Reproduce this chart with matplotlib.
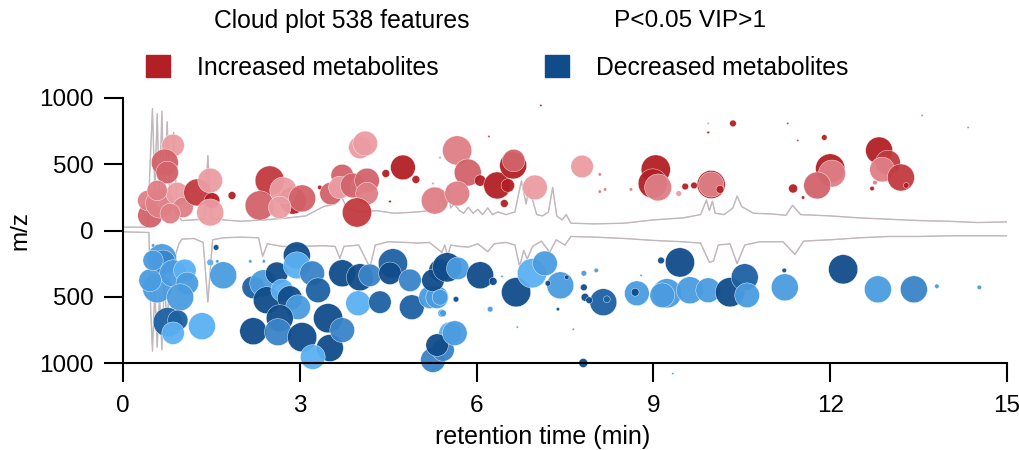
"""
Cloud plot of differential features (increased above, decreased below)
"""
import matplotlib
matplotlib.use("Agg")
import matplotlib.pyplot as plt
from matplotlib.patches import Rectangle

plt.rcParams['font.family'] = ['Liberation Sans', 'DejaVu Sans']

# --- data -------------------------------------------------------------------
# total ion chromatograms (retention time, relative intensity)
tic_upper = [
    (0.0, 25), (0.42, 25), (0.46, 500), (0.50, 920), (0.54, 300), (0.58, 880),
    (0.62, 250), (0.66, 900), (0.70, 200), (0.75, 820), (0.80, 150), (0.86, 740),
    (0.92, 120), (1.0, 75), (1.2, 80), (1.38, 85), (1.44, 565), (1.50, 90),
    (1.7, 80), (2.0, 70), (2.4, 80), (2.8, 95), (3.1, 110), (3.4, 180),
    (3.6, 200), (3.7, 260), (3.8, 170), (4.0, 140), (4.3, 150), (4.6, 130),
    (5.0, 140), (5.2, 150), (5.35, 170), (5.41, 280), (5.46, 160), (5.51, 340),
    (5.56, 170), (5.62, 200), (5.71, 150), (5.78, 130), (5.86, 175), (5.94, 130),
    (6.02, 160), (6.1, 120), (6.19, 170), (6.27, 120), (6.36, 140), (6.5, 120),
    (6.65, 140), (6.76, 375), (6.84, 200), (6.88, 300), (6.95, 230), (7.02, 120),
    (7.12, 110), (7.22, 140), (7.29, 325), (7.36, 110), (7.45, 80), (7.52, 120),
    (7.6, 55), (8.0, 50), (8.5, 55), (9.0, 80), (9.5, 95), (9.8, 120),
    (9.9, 230), (9.95, 150), (10.0, 220), (10.05, 130), (10.2, 120), (10.35, 170),
    (10.42, 260), (10.5, 180), (10.7, 130), (11.0, 125), (11.25, 115), (11.36, 190),
    (11.5, 120), (12.0, 110), (12.5, 95), (13.0, 85), (13.5, 75), (14.0, 70),
    (14.5, 60), (15.0, 65),
]
tic_lower = [
    (0.0, 10), (0.44, 15), (0.47, 600), (0.50, 910), (0.54, 450), (0.58, 880),
    (0.62, 500), (0.66, 900), (0.70, 400), (0.75, 700), (0.80, 300), (0.88, 200),
    (0.95, 100), (1.0, 65), (1.2, 60), (1.36, 90), (1.44, 540), (1.52, 70),
    (1.7, 55), (2.0, 50), (2.3, 55), (2.37, 195), (2.45, 100), (2.7, 120),
    (3.0, 120), (3.4, 115), (3.6, 120), (3.68, 210), (3.75, 120), (4.0, 110),
    (4.19, 280), (4.28, 110), (4.5, 85), (4.8, 90), (5.0, 95), (5.2, 90),
    (5.41, 165), (5.46, 110), (5.51, 190), (5.56, 110), (5.71, 120), (5.86, 125),
    (6.02, 100), (6.19, 160), (6.3, 100), (6.5, 90), (6.65, 110), (6.73, 270),
    (6.8, 150), (6.86, 215), (6.95, 120), (7.1, 80), (7.24, 165), (7.35, 70),
    (7.5, 110), (7.6, 45), (8.0, 50), (8.5, 60), (9.0, 75), (9.5, 85),
    (9.8, 95), (9.95, 240), (10.02, 230), (10.1, 110), (10.3, 100), (10.42, 250),
    (10.55, 110), (10.8, 85), (11.2, 85), (11.4, 180), (11.55, 80), (12.0, 70),
    (12.5, 55), (13.0, 45), (13.5, 45), (14.0, 40), (14.5, 40), (15.0, 40),
]

# increased features: (rt min, m/z, abundance, fold-change class 0=strongest)
increased = [
    (0.85, 642, 100, 4), (0.71, 513, 120, 2), (0.75, 438, 100, 2),
    (0.46, 113, 110, 2), (0.42, 226, 90, 3), (0.63, 204, 130, 3),
    (0.92, 279, 100, 4), (0.58, 302, 90, 3), (1.02, 174, 90, 3), (0.80, 128, 90, 3),
    (1.26, 287, 120, 1), (1.51, 226, 70, 0), (1.48, 377, 110, 4), (1.48, 136, 120, 4),
    (1.85, 264, 35, 0), (2.49, 377, 130, 1), (2.32, 189, 130, 2), (2.88, 226, 120, 0),
    (2.72, 302, 120, 4), (3.04, 242, 120, 2), (2.66, 174, 100, 4), (3.34, 325, 20, 0),
    (3.53, 279, 100, 2), (3.72, 415, 100, 2), (3.68, 325, 100, 4), (3.90, 340, 110, 2),
    (4.14, 377, 110, 2), (4.14, 279, 100, 3), (3.97, 136, 130, 1), (4.02, 627, 100, 4),
    (4.11, 657, 110, 4), (4.75, 476, 110, 0), (4.46, 430, 35, 0), (4.97, 385, 35, 0),
    (4.53, 219, 12, 0), (5.26, 355, 12, 4), (5.38, 551, 12, 4),
    (5.29, 226, 120, 3), (5.67, 604, 130, 3), (5.85, 438, 120, 2), (5.67, 279, 110, 3),
    (6.06, 377, 50, 0), (6.35, 340, 120, 0), (6.53, 340, 60, 0), (6.62, 491, 120, 0),
    (6.63, 528, 100, 2), (6.99, 325, 110, 4), (6.47, 204, 35, 0), (7.79, 483, 100, 4),
    (8.09, 423, 15, 3), (8.09, 294, 15, 3), (8.18, 310, 15, 3), (8.62, 310, 15, 3),
    (9.04, 460, 130, 0), (8.99, 355, 130, 0), (9.08, 325, 120, 3),
    (9.54, 332, 30, 0), (9.69, 340, 30, 0), (9.43, 279, 25, 4),
    (9.98, 347, 125, 0), (9.98, 347, 112, 3), (10.13, 310, 35, 0),
    (10.35, 808, 30, 0), (9.93, 740, 12, 0), (9.93, 808, 10, 4), (7.09, 944, 10, 0),
    (6.21, 710, 10, 1), (12.0, 468, 130, 0), (12.03, 430, 120, 3), (11.78, 340, 120, 2),
    (11.37, 317, 40, 0), (11.9, 702, 25, 0), (11.54, 249, 15, 0), (11.45, 680, 10, 1),
    (11.28, 808, 10, 1), (12.83, 604, 120, 0), (12.98, 513, 110, 1), (12.88, 460, 110, 3),
    (13.2, 400, 120, 1), (13.29, 340, 25, 0), (12.76, 362, 20, 3), (12.71, 317, 20, 0),
    (13.56, 868, 10, 3), (14.34, 778, 10, 3),
]

# decreased features: (rt min, m/z, abundance, fold-change class 0=strongest)
decreased = [
    (0.66, 211, 130, 3), (0.68, 241, 110, 2), (0.58, 436, 130, 3), (0.85, 323, 120, 3),
    (1.05, 301, 100, 4), (1.09, 399, 100, 3), (0.97, 504, 120, 3), (0.46, 376, 100, 3),
    (0.51, 226, 90, 3), (0.76, 692, 130, 1), (0.93, 677, 90, 1), (0.85, 775, 100, 4),
    (1.34, 722, 120, 4), (1.70, 338, 120, 3), (2.21, 760, 120, 0), (2.21, 429, 100, 1),
    (2.38, 399, 120, 3), (2.61, 323, 100, 0), (2.44, 526, 120, 0), (2.70, 451, 100, 4),
    (2.83, 511, 110, 0), (2.95, 188, 120, 0), (2.95, 263, 120, 4), (3.21, 323, 110, 2),
    (3.31, 451, 110, 1), (2.97, 579, 110, 3), (2.66, 662, 120, 0), (2.63, 767, 120, 2),
    (3.04, 805, 130, 0), (3.48, 662, 130, 0), (3.51, 887, 120, 0), (3.22, 955, 110, 4),
    (3.72, 752, 110, 2), (3.72, 323, 120, 0), (3.99, 549, 110, 4), (4.02, 353, 120, 0),
    (4.19, 338, 100, 2), (4.36, 541, 100, 1), (4.58, 248, 130, 1), (4.53, 323, 100, 0),
    (4.87, 376, 100, 2), (4.90, 579, 110, 1), (5.41, 624, 35, 3), (5.21, 504, 100, 3),
    (5.33, 504, 100, 3), (5.38, 301, 100, 0), (5.26, 376, 100, 0), (5.55, 775, 100, 4),
    (5.26, 978, 110, 2), (5.43, 902, 100, 2), (5.33, 865, 100, 0), (5.50, 278, 130, 0),
    (5.68, 286, 100, 3), (6.06, 338, 120, 0), (5.38, 504, 70, 3), (5.63, 775, 110, 3),
    (6.67, 466, 130, 0), (6.94, 323, 130, 4), (7.16, 248, 110, 3), (7.42, 414, 120, 3),
    (8.15, 541, 120, 1), (8.72, 474, 110, 3), (8.69, 466, 35, 0), (9.23, 474, 130, 3),
    (9.15, 489, 110, 3), (9.62, 451, 120, 3), (9.93, 451, 110, 3), (9.45, 241, 130, 0),
    (10.3, 466, 130, 0), (10.55, 353, 120, 1), (10.59, 489, 110, 3),
    (6.28, 384, 35, 0), (5.65, 519, 25, 0), (5.43, 624, 30, 3), (6.23, 594, 25, 3),
    (7.82, 323, 25, 3), (8.03, 301, 20, 3), (7.82, 429, 30, 0), (7.84, 504, 35, 0),
    (7.91, 526, 30, 0), (8.21, 519, 30, 1), (9.13, 226, 30, 0), (8.79, 338, 10, 3),
    (7.38, 594, 15, 0), (7.21, 399, 25, 0), (7.53, 353, 20, 0), (6.69, 729, 10, 3),
    (7.64, 745, 10, 3), (7.81, 1000, 40, 0), (9.33, 1080, 10, 3), (6.43, 346, 10, 3),
    (11.22, 301, 20, 0), (11.23, 429, 120, 3), (12.22, 293, 130, 0), (12.81, 444, 120, 3),
    (13.42, 444, 120, 2), (13.81, 421, 20, 3), (14.53, 429, 20, 3),
    (0.51, 113, 15, 3), (1.58, 128, 25, 0), (1.48, 241, 30, 4), (1.60, 233, 15, 3),
    (2.16, 233, 15, 3), (2.39, 233, 15, 3),
]

x_ticks = [0, 3, 6, 9, 12, 15]
y_ticks = [-1000, -500, 0, 500, 1000]
y_tick_labels = ['1000', '500', '0', '500', '1000']

red_shades = ['#b21f24', '#c23a3f', '#d2636a', '#df7f86', '#eb9ca2']
blue_shades = ['#0f4c89', '#1e61a3', '#3a84c8', '#4a9ce0', '#5ab0f2']


def bubble_size(abundance):
    # abundance is on a 0-130 scale
    return (abundance / 10 * 1.62) ** 2


fig = plt.figure(figsize=(10.19, 4.5), dpi=100)
ax = fig.add_axes([123 / 1019, 1 - 363 / 450, 884 / 1019, 265 / 450])

# chromatograms, mirrored
rt_u, int_u = zip(*tic_upper)
rt_l, int_l = zip(*tic_lower)
ax.plot(rt_u, int_u, color='#a8a8a8', lw=1.0, alpha=0.85, zorder=1)
ax.plot(rt_u, int_u, color='#d9b8c8', lw=0.5, alpha=0.6, zorder=1)
ax.plot(rt_l, [-v for v in int_l], color='#a8a8a8', lw=1.0, alpha=0.85, zorder=1)
ax.plot(rt_l, [-v for v in int_l], color='#d9b8c8', lw=0.5, alpha=0.6, zorder=1)

rt, mz, ab, cls = zip(*increased)
ax.scatter(rt, mz, s=[bubble_size(a) for a in ab],
           c=[red_shades[k] for k in cls], edgecolors='white', linewidths=0.3,
           alpha=0.95, zorder=2)

rt, mz, ab, cls = zip(*decreased)
ax.scatter(rt, [-m for m in mz], s=[bubble_size(a) for a in ab],
           c=[blue_shades[k] for k in cls], edgecolors='white', linewidths=0.3,
           alpha=0.95, zorder=2, clip_on=False)

ax.set_xlim(0, 15)
ax.set_ylim(-1000, 1000)
ax.set_xticks(x_ticks)
ax.set_yticks(y_ticks)
ax.set_yticklabels(y_tick_labels)
for side in ['top', 'right']:
    ax.spines[side].set_visible(False)
for side in ['left', 'bottom']:
    ax.spines[side].set_linewidth(1.5)
ax.tick_params(axis='both', direction='out', length=14, width=1.5, labelsize=17.5)
ax.tick_params(axis='x', pad=9)
ax.tick_params(axis='y', pad=7)
ax.set_xlabel('retention time (min)', fontsize=18)
ax.xaxis.set_label_coords((543 - 123) / 884, -0.235)
ax.set_ylabel('m/z', fontsize=17.5, labelpad=6)

# titles
fig.text(342 / 1019, 1 - 21 / 450, 'Cloud plot 538 features', fontsize=17.8,
         ha='center', va='center')
fig.text(690 / 1019, 1 - 21 / 450, 'P<0.05 VIP>1', fontsize=17.6,
         ha='center', va='center')

# legend
for x0, color, label in [(146, red_shades[0], 'Increased metabolites'),
                         (545, blue_shades[0], 'Decreased metabolites')]:
    fig.patches.append(Rectangle((x0 / 1019, 1 - 77 / 450), 24 / 1019, 22 / 450,
                                 transform=fig.transFigure, color=color))
    fig.text((x0 + 51) / 1019, 1 - 68 / 450, label, fontsize=17.8,
             ha='left', va='center')

fig.savefig('out.png', dpi=100)
plt.close(fig)
